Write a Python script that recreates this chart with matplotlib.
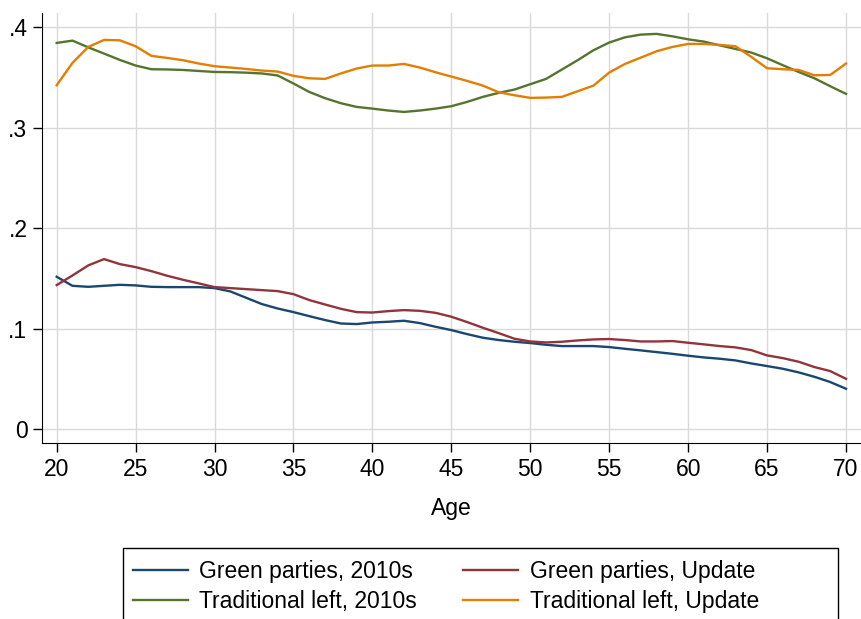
import numpy as np
import matplotlib
matplotlib.use("Agg")
import matplotlib.pyplot as plt
from matplotlib.patches import Rectangle

plt.rcParams['font.family'] = ['Liberation Sans', 'DejaVu Sans']

# ages 20..70
age = list(range(20, 71))

green_2010s = [0.1516, 0.1426, 0.1416, 0.1426, 0.1436, 0.1430, 0.1416, 0.1413, 0.1413, 0.1413,
               0.1403, 0.1370, 0.1307, 0.1244, 0.1200, 0.1164, 0.1124, 0.1085, 0.1051, 0.1045,
               0.1061, 0.1068, 0.1078, 0.1055, 0.1018, 0.0985, 0.0945, 0.0909, 0.0886, 0.0869,
               0.0856, 0.0839, 0.0826, 0.0826, 0.0826, 0.0816, 0.0799, 0.0783, 0.0766, 0.0749,
               0.0730, 0.0713, 0.0700, 0.0683, 0.0653, 0.0627, 0.0600, 0.0564, 0.0520, 0.0468,
               0.0401]

green_update = [0.1433, 0.1529, 0.1629, 0.1692, 0.1642, 0.1612, 0.1572, 0.1526, 0.1486, 0.1450,
                0.1413, 0.1403, 0.1393, 0.1383, 0.1373, 0.1343, 0.1284, 0.1240, 0.1197, 0.1164,
                0.1160, 0.1174, 0.1184, 0.1177, 0.1157, 0.1118, 0.1065, 0.1008, 0.0955, 0.0899,
                0.0872, 0.0862, 0.0869, 0.0882, 0.0892, 0.0896, 0.0886, 0.0872, 0.0872, 0.0876,
                0.0859, 0.0843, 0.0826, 0.0813, 0.0786, 0.0733, 0.0706, 0.0670, 0.0617, 0.0577,
                0.0500]

left_2010s = [0.3844, 0.3867, 0.3800, 0.3738, 0.3675, 0.3619, 0.3582, 0.3580, 0.3575, 0.3565,
              0.3555, 0.3553, 0.3548, 0.3540, 0.3520, 0.3440, 0.3356, 0.3294, 0.3244, 0.3207,
              0.3190, 0.3171, 0.3157, 0.3171, 0.3190, 0.3214, 0.3257, 0.3307, 0.3347, 0.3380,
              0.3433, 0.3486, 0.3579, 0.3672, 0.3771, 0.3848, 0.3900, 0.3927, 0.3934, 0.3910,
              0.3880, 0.3857, 0.3820, 0.3784, 0.3748, 0.3691, 0.3622, 0.3555, 0.3492, 0.3413,
              0.3337]

left_update = [0.3423, 0.3645, 0.3804, 0.3874, 0.3870, 0.3811, 0.3715, 0.3695, 0.3672, 0.3639,
               0.3612, 0.3599, 0.3585, 0.3569, 0.3559, 0.3516, 0.3492, 0.3486, 0.3540, 0.3589,
               0.3619, 0.3619, 0.3635, 0.3599, 0.3552, 0.3509, 0.3466, 0.3419, 0.3353, 0.3323,
               0.3297, 0.3300, 0.3307, 0.3363, 0.3419, 0.3549, 0.3635, 0.3698, 0.3761, 0.3804,
               0.3834, 0.3834, 0.3824, 0.3811, 0.3705, 0.3592, 0.3582, 0.3575, 0.3522, 0.3525,
               0.3639]

series = [
    ("Green parties, 2010s", green_2010s, "#1a476f"),
    ("Green parties, Update", green_update, "#90353b"),
    ("Traditional left, 2010s", left_2010s, "#55752f"),
    ("Traditional left, Update", left_update, "#e37e00"),
]

FS = 16.5

fig = plt.figure(figsize=(8.61, 6.19), dpi=100)
ax = fig.add_axes([42/861, 1 - 443/619, 1 - 42/861, (443 - 13)/619])

lines = {}
for label, vals, col in series:
    lines[label], = ax.plot(age, vals, color=col, lw=1.7, label=label)

ax.set_xlim(19.07, 70.95)
ax.set_ylim(-0.0139, 0.4142)
ax.set_xticks(range(20, 71, 5))
ax.set_yticks([0, 0.1, 0.2, 0.3, 0.4])
ax.set_yticklabels(["0", ".1", ".2", ".3", ".4"])
ax.grid(True, color="#d9d9d9", lw=1)
ax.set_axisbelow(True)
for s in ["top", "right"]:
    ax.spines[s].set_visible(False)
ax.tick_params(labelsize=FS, length=6.5, width=1, color="black", pad=4)
ax.set_xlabel("Age", fontsize=FS, labelpad=12)

# legend box (bottom edge runs off the figure like in the original)
fig.patches.append(Rectangle((123/861, -0.1), (838 - 123)/861, 0.1 + 1 - 548/619,
                             transform=fig.transFigure, fill=False, ec="black", lw=1))

# row-major order: matplotlib fills columns first
order = ["Green parties, 2010s", "Traditional left, 2010s",
         "Green parties, Update", "Traditional left, Update"]
fig.legend([lines[k] for k in order], order,
           loc="upper left", bbox_to_anchor=(133/861, 1 - 560/619),
           ncol=2, fontsize=FS, frameon=False, handlelength=2.4,
           borderpad=0, labelspacing=0.32, handletextpad=0.5,
           columnspacing=2.0, borderaxespad=0)

fig.savefig("out.png", dpi=100)
